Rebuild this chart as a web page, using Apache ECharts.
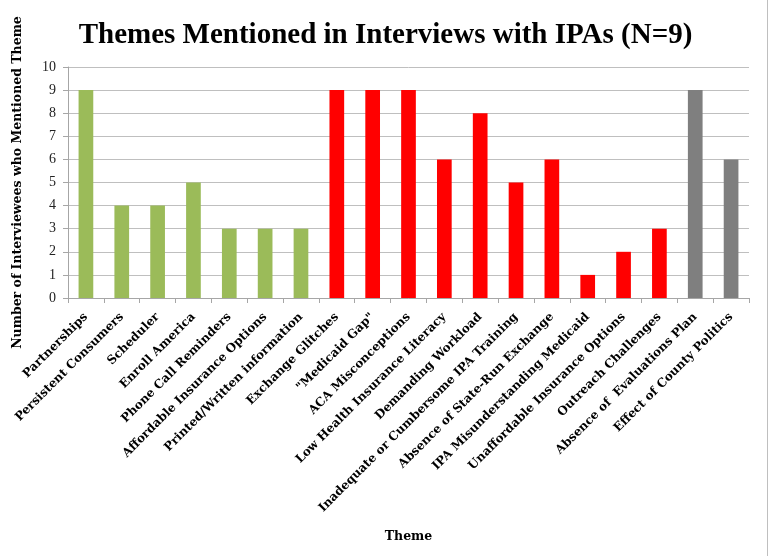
<!DOCTYPE html>
<html><head><meta charset="utf-8">
<script src="https://cdn.jsdelivr.net/npm/echarts@6/dist/echarts.min.js"></script>
<style>html,body{margin:0;padding:0;background:#fff}#c{width:771px;height:556px}</style>
</head><body><div id="c"></div>
<script>
const categories = ["Partnerships","Persistent Consumers","Scheduler","Enroll America","Phone Call Reminders","Affordable Insurance Options","Printed/Written information","Exchange Glitches","\"Medicaid Gap\"","ACA Misconceptions","Low Health Insurance Literacy","Demanding Workload","Inadequate or Cumbersome IPA Training","Absence of State-Run Exchange","IPA Misunderstanding Medicaid","Unaffordable Insurance Options","Outreach Challenges","Absence of  Evaluations Plan","Effect of County Politics"];
const values = [9,4,4,5,3,3,3,9,9,9,6,8,5,6,1,2,3,9,6];
const groups = ["g","g","g","g","g","g","g","r","r","r","r","r","r","r","r","r","r","k","k"];
const yTicks = [0,1,2,3,4,5,6,7,8,9,10];

const groupColor = {g:"#9BBB59", r:"#FF0000", k:"#7F7F7F"};
const serif = "'Liberation Serif', serif";
const dserif = "'DejaVu Serif', serif";
const chart = echarts.init(document.getElementById('c'));
chart.setOption({
  animation:false,
  backgroundColor:'#fff',
  title:{text:"Themes Mentioned in Interviews with IPAs (N=9)", left:'center', top:16,
    textStyle:{fontFamily:serif, fontWeight:'bold', fontSize:29, color:'#000'}},
  grid:{left:68, right:22, top:67, bottom:258},
  xAxis:{type:'category', data:categories, name:'Theme', nameLocation:'middle', nameGap:232,
    nameTextStyle:{fontFamily:dserif, fontWeight:'bold', fontSize:12.5, color:'#000'},
    axisLine:{lineStyle:{color:'#A6A6A6'}},
    axisTick:{show:true, length:5, lineStyle:{color:'#A6A6A6'}},
    axisLabel:{rotate:45, interval:0, margin:17, fontFamily:dserif, fontWeight:'bold', fontSize:12, color:'#000'}},
  yAxis:{type:'value', min:yTicks[0], max:yTicks[yTicks.length-1], interval:1,
    name:'Number of Interviewees who Mentioned Theme', nameLocation:'middle', nameGap:44,
    nameTextStyle:{fontFamily:dserif, fontWeight:'bold', fontSize:12.5, color:'#000'},
    axisLine:{show:true, lineStyle:{color:'#A6A6A6'}},
    axisTick:{show:true, length:5, lineStyle:{color:'#A6A6A6'}},
    axisLabel:{fontFamily:serif, fontSize:14, color:'#222', margin:12},
    splitLine:{lineStyle:{color:'#BFBFBF'}}},
  series:[{type:'bar', barWidth:'41%',
    data: values.map((v,i)=>({value:v, itemStyle:{color:groupColor[groups[i]]}}))}],
  graphic:[{type:'line', shape:{x1:767.5,y1:0,x2:767.5,y2:556}, style:{stroke:'#BFBFBF', lineWidth:1}}]
});
</script></body></html>
